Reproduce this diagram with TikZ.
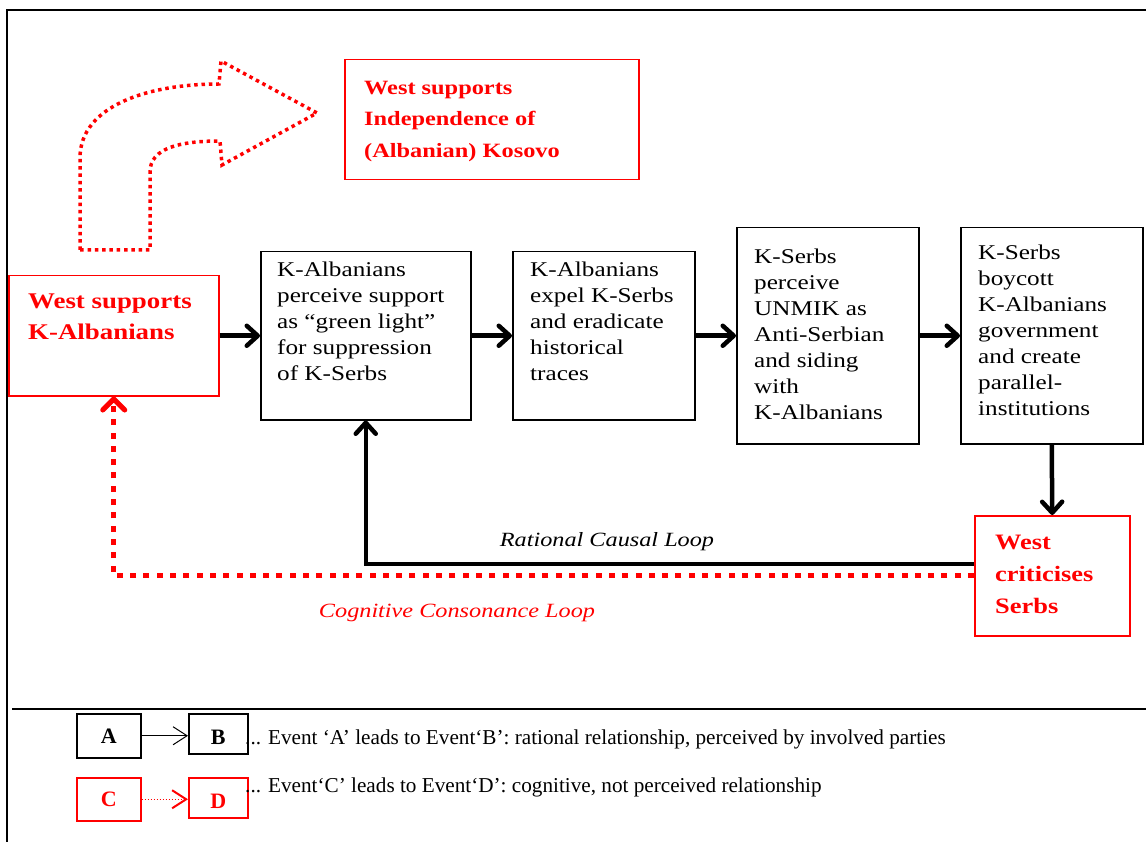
\documentclass[tikz,border=0pt]{standalone}
\usepackage{fontspec}
\setmainfont{Liberation Serif}
\newfontfamily\bodyf{Liberation Serif}[FakeStretch=1.2,Ligatures=TeX]
\usetikzlibrary{arrows.meta}
\definecolor{rd}{RGB}{255,0,0}
\tikzset{
  evbox/.style={draw=black, line width=1.5pt, inner sep=0pt, anchor=north west},
  wbox/.style={draw=rd, line width=1.5pt, inner sep=0pt, anchor=north west},
  btxt/.style={inner sep=0pt, anchor=north west, align=left, text=black,
    font=\bodyf\fontsize{21}{26}\selectfont},
  wtxt/.style={inner sep=0pt, anchor=north west, align=left, text=rd},
  thk/.style={line width=4.5pt, line join=miter,
    -{Straight Barb[length=11pt,width=20pt,round]}},
  rdloop/.style={draw=rd, line width=5pt, dash pattern=on 6pt off 7.3pt,
    -{Straight Barb[length=11pt,width=22pt,round]}},
  lgbox/.style={line width=1.5pt, inner sep=0pt, anchor=north west,
    font=\bfseries\fontsize{22}{24}\selectfont},
  lowlbl/.style={text height=22pt, text depth=0pt},
  lgtxt/.style={inner sep=0pt, anchor=base west, font=\fontsize{21.2}{24}\selectfont},
  looplbl/.style={inner sep=0pt, font=\bodyf\itshape\fontsize{20.2}{24}\selectfont}
}
\begin{document}
\begin{tikzpicture}[x=1pt,y=-1pt]
\useasboundingbox (0,0) rectangle (1146,842);
% frame
\draw[line width=2pt] (1146,10) -- (7,10) -- (7,842);
\draw[line width=2pt] (12,709) -- (1146,709);

% curved dotted arrow (shape)
\draw[rd, line width=3.5pt, dash pattern=on 3.5pt off 3.8pt, line join=miter]
  (80,250) -- (80,158) .. controls (80,105) and (150,84) .. (219,84)
  -- (221,61) -- (317,113) -- (222,165) -- (220,141)
  .. controls (180,141) and (150,148) .. (150,172) -- (150,250) -- cycle;

% boxes
\node[wbox, minimum width=294pt, minimum height=120pt] (indep) at (344,59) {};
\node[wtxt, font=\bodyf\bfseries\fontsize{20.3}{31.5}\selectfont] (indepT) at (364,81)
  {West supports\\Independence of\\(Albanian) Kosovo};

\node[wbox, minimum width=210pt, minimum height=120pt] (wsk) at (8,275) {};
\node[wtxt, font=\bodyf\bfseries\fontsize{22.4}{31}\selectfont] (wskT) at (28,294)
  {West supports\\K-Albanians};

\node[evbox, minimum width=210pt, minimum height=168pt] (perc) at (260,251) {};
\node[btxt] (percT) at (277,262)
  {K-Albanians\\perceive support\\as “green light”\\for suppression\\of K-Serbs};

\node[evbox, minimum width=182pt, minimum height=168pt] (expel) at (512,251) {};
\node[btxt] (expelT) at (530,262)
  {K-Albanians\\expel K-Serbs\\and eradicate\\historical\\traces};

\node[evbox, minimum width=182pt, minimum height=216pt] (unmik) at (736,227) {};
\node[btxt] (unmikT) at (754,249)
  {K-Serbs\\perceive\\UNMIK as\\Anti-Serbian\\and siding\\with\\K-Albanians};

\node[evbox, minimum width=182pt, minimum height=216pt] (boy) at (960,227) {};
\node[btxt] (boyT) at (978,245)
  {K-Serbs\\boycott\\K-Albanians\\government\\and create\\parallel-\\institutions};

\node[wbox, minimum width=155pt, minimum height=120pt] (crit) at (974,515) {};
\node[wtxt, font=\bodyf\bfseries\fontsize{22}{31.8}\selectfont] (critT) at (995,535)
  {West\\criticises\\Serbs};

% connectors
\draw[thk] (wsk.east) -- (perc.west);
\draw[thk] (perc.east) -- (expel.west);
\draw[thk] (expel.east) -- (unmik.west);
\draw[thk] (unmik.east) -- (boy.west);
\draw[thk] (boy.south) -- (crit.north);
\draw[thk] ([yshift=12pt]crit.west) -| (perc.south);
\draw[rdloop] (crit.west) -| (wsk.south);

\node[looplbl] (rcl) at (607,542) {Rational Causal Loop};
\node[looplbl, text=rd] (ccl) at (457,613) {Cognitive Consonance Loop};

% legend
\node[lgbox, draw=black, minimum width=64pt, minimum height=44pt] (A) at (76,713) {A};
\node[lgbox, lowlbl, draw=black, minimum width=59pt, minimum height=40pt] (B) at (188,713) {B};
\node[lgbox, draw=rd, text=rd, minimum width=64pt, minimum height=43pt] (C) at (76,777) {C};
\node[lgbox, lowlbl, draw=rd, text=rd, minimum width=59pt, minimum height=40pt] (D) at (188,777) {D};
\draw[line width=1pt, -{Straight Barb[length=14pt,width=18pt]}] (A.east) -- (B.west |- A.east);
\draw[rd, line width=1.2pt, dash pattern=on 1.5pt off 1.5pt,
  -{Straight Barb[length=14pt,width=18pt,line width=2pt,sep=0pt]}] (C.east) -- (D.west |- C.east);
\node[lgtxt] (L1) at (245,744)
  {... Event ‘A’ leads to Event‘B’: rational relationship, perceived by involved parties};
\node[lgtxt] (L2) at (245,792)
  {... Event‘C’ leads to Event‘D’: cognitive, not perceived relationship};
\end{tikzpicture}
\end{document}
